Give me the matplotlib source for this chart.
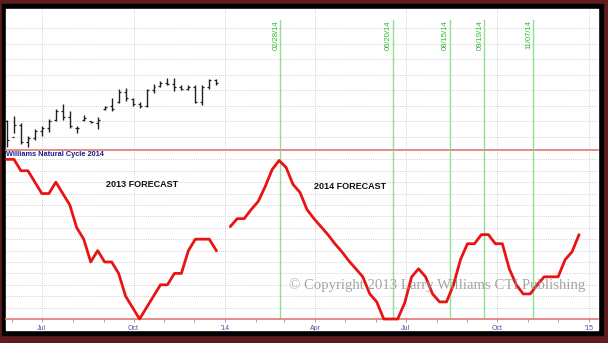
import numpy as np
import pandas as pd
import matplotlib
matplotlib.use("Agg")
import matplotlib.pyplot as plt
import matplotlib.dates as mdates
from matplotlib.patches import Rectangle

plt.rcParams['font.family'] = ['Liberation Sans', 'DejaVu Sans']

# weekly price bars, 2013
bar_dates = pd.date_range('2013-05-27', periods=31, freq='7D')
bar_high = [1655, 1667, 1645, 1603, 1626, 1635, 1658, 1690, 1706, 1684, 1635,
            1671, 1651, 1664, 1700, 1725, 1754, 1757, 1725, 1712, 1754, 1770,
            1780, 1789, 1789, 1767, 1767, 1767, 1767, 1786, 1786]
bar_low = [1568, 1613, 1578, 1568, 1590, 1603, 1616, 1651, 1655, 1629, 1613,
           1651, 1645, 1626, 1687, 1684, 1709, 1716, 1700, 1693, 1696, 1741,
           1761, 1767, 1748, 1751, 1751, 1709, 1703, 1754, 1767]
bar_open = [1650, 1600, 1640, 1585, 1598, 1620, 1630, 1655, 1685, 1665, 1630,
            1655, 1650, 1645, 1690, 1700, 1712, 1745, 1722, 1705, 1700, 1750,
            1765, 1775, 1770, 1762, 1755, 1760, 1712, 1760, 1782]
bar_close = [1590, 1640, 1585, 1598, 1620, 1630, 1650, 1685, 1665, 1635, 1630,
             1660, 1648, 1655, 1695, 1690, 1745, 1725, 1705, 1700, 1750, 1760,
             1775, 1770, 1762, 1755, 1760, 1712, 1760, 1782, 1775]

# natural cycle forecasts
cycle13 = [14, 14, 13, 13, 12, 11, 11, 12, 11, 10, 8, 7, 5, 6, 5, 5, 4, 2, 1, 0,
           1, 2, 3, 3, 4, 4, 6, 7, 7, 7, 6]
cycle14_dates = pd.date_range('2014-01-06', periods=51, freq='7D')
cycle14 = [8.1, 8.8, 8.8, 9.6, 10.3, 11.6, 13.1, 13.9, 13.3, 11.8, 11.1, 9.6,
           8.8, 8.1, 7.4, 6.6, 5.9, 5.1, 4.4, 3.7, 2.2, 1.5, 0, 0, 0, 1.4, 3.7,
           4.4, 3.7, 2.2, 1.5, 1.5, 3.0, 5.2, 6.6, 6.6, 7.4, 7.4, 6.6, 6.6, 4.4,
           3.0, 2.2, 2.2, 3.0, 3.7, 3.7, 3.7, 5.2, 5.9, 7.4]

turn_dates = ['2014-02-25', '2014-06-18', '2014-08-14', '2014-09-18', '2014-11-06']
turn_labels = ['02/28/14', '06/20/14', '08/15/14', '09/19/14', '11/07/14']

tick_dates = ['2013-07-01', '2013-10-01', '2014-01-01', '2014-04-01',
              '2014-07-01', '2014-10-01', '2015-01-01']
tick_labels = ['Jul', 'Oct', "'14", 'Apr', 'Jul', 'Oct', "'15"]

W, H = 608, 343
fig = plt.figure(figsize=(W / 100, H / 100), dpi=100, facecolor='#5e1c1c')
fig.add_artist(Rectangle((2 / W, 1 - 335 / H), 601 / W, 331 / H,
                         transform=fig.transFigure, color='black', zorder=-3))
fig.add_artist(Rectangle((6 / W, 1 - 330 / H), 592 / W, 321 / H,
                         transform=fig.transFigure, color='white', zorder=-2))

ax1 = fig.add_axes([6 / W, 1 - 149.5 / H, 592 / W, 140.5 / H])
ax2 = fig.add_axes([6 / W, 1 - 319 / H, 592 / W, 169 / H])

xmin = mdates.date2num(pd.Timestamp('2013-05-26'))
xmax = mdates.date2num(pd.Timestamp('2015-01-10'))
tick_x = mdates.date2num(pd.to_datetime(tick_dates))
turn_x = mdates.date2num(pd.to_datetime(turn_dates))

grid_kw = dict(color='#c4c4c4', lw=0.6, ls=(0, (1, 1.5)), zorder=0)
red_line = '#e07878'

for ax in (ax1, ax2):
    ax.set_xlim(xmin, xmax)
    ax.set_facecolor('none')
    for s in ('top', 'left', 'right'):
        ax.spines[s].set_visible(False)
    ax.spines['bottom'].set_color(red_line)
    ax.spines['bottom'].set_linewidth(1.2)
    ax.set_yticks([])
    for x in tick_x:
        ax.axvline(x, **grid_kw)

# top panel: price bars
ax1.set_ylim(1560, 2011)
for y in range(1600, 2000, 50):
    ax1.axhline(y, **grid_kw)
bx = mdates.date2num(bar_dates)
ax1.vlines(bx, bar_low, bar_high, color='#202020', lw=1.0, zorder=3)
ax1.hlines(bar_open, bx - 2, bx, color='#202020', lw=0.9, zorder=3)
ax1.hlines(bar_close, bx, bx + 2, color='#202020', lw=0.9, zorder=3)
ax1.set_xticks([])

for x, lab in zip(turn_x, turn_labels):
    ax1.axvline(x, ymax=0.92, color='#8fe08f', lw=1.0, zorder=2)
    ax2.axvline(x, color='#8fe08f', lw=1.0, zorder=2)
    ax1.text(x - 0.5, 0.92, lab, transform=ax1.get_xaxis_transform(),
             rotation=90, ha='right', va='top', fontsize=5.5, color='#2eb82e')

# bottom panel: natural cycle
ax2.set_ylim(0, 14.82)
for y in range(1, 15):
    ax2.axhline(y, **grid_kw)
ax2.plot(bx, cycle13, color='#e81414', lw=2.0, solid_joinstyle='round',
         zorder=4, clip_on=False)
ax2.plot(mdates.date2num(cycle14_dates), cycle14, color='#e81414', lw=2.0,
         solid_joinstyle='round', solid_capstyle='round', zorder=4, clip_on=False)

ax2.text(0.0, 0.995, 'Williams Natural Cycle 2014', transform=ax2.transAxes,
         ha='left', va='top', fontsize=5.3, fontweight='bold', color='#1c1c86')
ax2.text(mdates.date2num(pd.Timestamp('2013-10-10')), 11.8, '2013 FORECAST',
         ha='center', va='center', fontsize=6.5, fontweight='bold', color='#111111')
ax2.text(mdates.date2num(pd.Timestamp('2014-05-06')), 11.6, '2014 FORECAST',
         ha='center', va='center', fontsize=6.5, fontweight='bold', color='#111111')
ax2.text(mdates.date2num(pd.Timestamp('2014-08-02')), 3.0,
         '\u00a9 Copyright 2013 Larry Williams CTI Publishing',
         ha='center', va='center', fontsize=10.6, color='#8f8f8f', alpha=0.8,
         family=['Liberation Serif', 'DejaVu Serif'], zorder=5)

ax2.set_xticks(tick_x)
ax2.set_xticklabels(tick_labels)
ax2.xaxis.set_minor_locator(mdates.MonthLocator())
ax2.tick_params(axis='x', which='major', length=2.5, width=0.6, color='#909090',
                labelsize=5, labelcolor='#5050a0', pad=2)
ax2.tick_params(axis='x', which='minor', length=2.0, width=0.6, color='#909090')

fig.savefig('out.png', dpi=100, facecolor=fig.get_facecolor())
